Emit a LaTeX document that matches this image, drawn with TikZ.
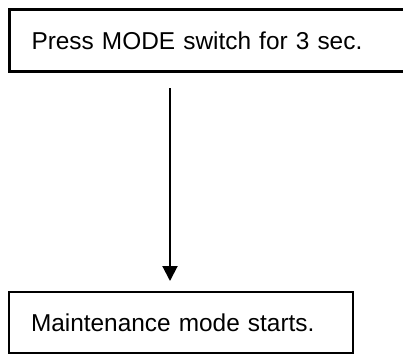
\documentclass[tikz,border=0pt]{standalone}
\usepackage{fontspec}
\setmainfont{Liberation Sans}
\usepackage{tikz}
\usetikzlibrary{arrows.meta}

\begin{document}
\begin{tikzpicture}[x=1pt, y=-1pt,
  every node/.style={font=\fontsize{24.4}{29}\selectfont, align=left, inner xsep=22pt, inner ysep=0pt},
  stepbox/.style={draw, anchor=north west, minimum height=62pt},
  flow/.style={line width=2pt, -{Triangle[width=15pt, length=15pt]}}]
\useasboundingbox (0,0) rectangle (403,356);

\node(press)[stepbox, line width=3pt, text width=358pt] at (8,8) {Press MODE switch for 3 sec.};
\node(mstart)[stepbox, line width=2pt, text width=300pt, minimum height=61pt] at (8,291) {Maintenance mode starts.};
\coordinate(ax) at (170,0);

\draw[flow, shorten <=15pt, shorten >=10pt] (press.south -| ax) -- (mstart.north -| ax);
\end{tikzpicture}
\end{document}
